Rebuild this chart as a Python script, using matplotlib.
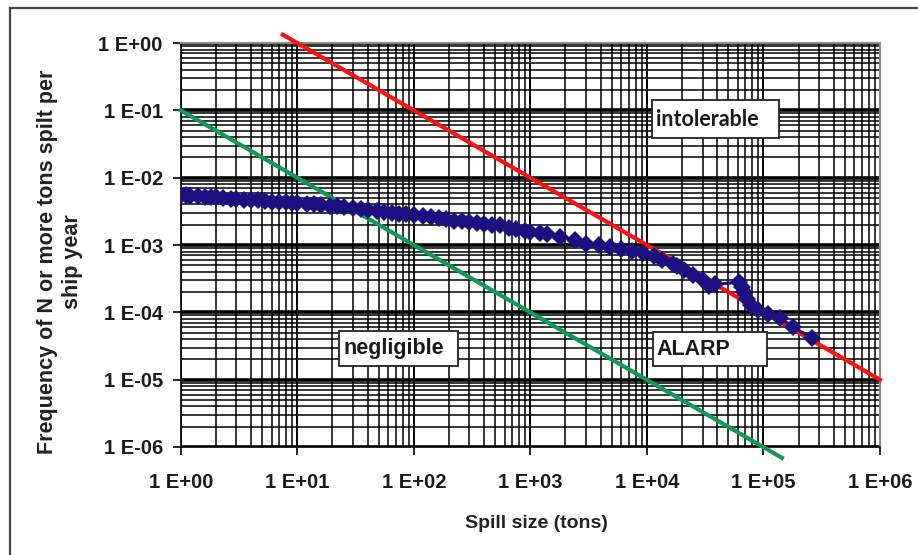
import matplotlib
matplotlib.use("Agg")
import matplotlib.pyplot as plt
from matplotlib.patches import Rectangle
from matplotlib.ticker import FixedLocator, LogLocator, NullFormatter
import numpy as np

# spill size (tons) vs frequency of N or more tons spilt per ship year
spill_tons = [1.0, 1.1, 1.2, 1.4, 1.6, 1.8, 2.0, 2.3, 2.7, 3.0, 3.5, 4.0, 4.6,
              5.3, 6.0, 7.0, 8.0, 9.0, 10, 12, 14, 16, 19, 22, 25, 30, 35, 40,
              48, 55, 65, 75, 85, 100, 120, 140, 165, 190, 220, 260, 300, 350,
              400, 470, 550, 650, 750, 900, 1000, 1200, 1400, 1800, 2400, 3000,
              3900, 4800, 6000, 7500, 9200, 11500, 13500, 16600, 18000, 21000,
              25000, 30000, 34000, 38000, 62000, 65000, 68000, 72000, 78000,
              90000, 110000, 140000, 180000, 260000]
frequency = [5.6e-3, 5.5e-3, 5.4e-3, 5.3e-3, 5.2e-3, 5.2e-3, 5.1e-3, 5.0e-3,
             4.9e-3, 4.8e-3, 4.7e-3, 4.7e-3, 4.6e-3, 4.5e-3, 4.4e-3, 4.3e-3,
             4.3e-3, 4.2e-3, 4.2e-3, 4.1e-3, 4.0e-3, 3.9e-3, 3.85e-3, 3.8e-3,
             3.65e-3, 3.5e-3, 3.4e-3, 3.3e-3, 3.2e-3, 3.1e-3, 3.0e-3, 2.9e-3,
             2.9e-3, 2.8e-3, 2.7e-3, 2.6e-3, 2.5e-3, 2.4e-3, 2.3e-3, 2.25e-3,
             2.2e-3, 2.1e-3, 2.05e-3, 2.0e-3, 2.0e-3, 1.8e-3, 1.7e-3, 1.6e-3,
             1.55e-3, 1.5e-3, 1.45e-3, 1.3e-3, 1.2e-3, 1.05e-3, 1.0e-3, 9.3e-4,
             8.8e-4, 8.2e-4, 7.6e-4, 6.8e-4, 6.0e-4, 5.3e-4, 4.8e-4, 4.2e-4,
             3.6e-4, 3.0e-4, 2.5e-4, 2.6e-4, 2.8e-4, 2.4e-4, 2.0e-4, 1.6e-4,
             1.3e-4, 1.1e-4, 9.5e-5, 8.3e-5, 6.0e-5, 4.2e-5]

# criterion lines (end points)
intolerable_x = [7.5, 1e6]
intolerable_y = [1.33, 1e-5]
negligible_x = [1.0, 1.44e5]
negligible_y = [1e-1, 6.9e-7]

xticks = [1e0, 1e1, 1e2, 1e3, 1e4, 1e5, 1e6]
xlabels = ["1 E+00", "1 E+01", "1 E+02", "1 E+03", "1 E+04", "1 E+05", "1 E+06"]
yticks = [1e-6, 1e-5, 1e-4, 1e-3, 1e-2, 1e-1, 1e0]
ylabels = ["1 E-06", "1 E-05", "1 E-04", "1 E-03", "1 E-02", "1 E-01", "1 E+00"]

plt.rcParams["font.family"] = ["Liberation Sans", "DejaVu Sans"]

fig = plt.figure(figsize=(9.18, 5.55), dpi=100)
ax = fig.add_axes([0.197, 0.1946, 0.7616, 0.7279])
ax.set_xscale("log")
ax.set_yscale("log")
ax.set_xlim(1, 1e6)
ax.set_ylim(1e-6, 1)

ax.xaxis.set_major_locator(FixedLocator(xticks))
ax.yaxis.set_major_locator(FixedLocator(yticks))
ax.xaxis.set_minor_locator(LogLocator(base=10, subs=np.arange(2, 10)))
ax.yaxis.set_minor_locator(LogLocator(base=10, subs=np.arange(2, 10)))
ax.xaxis.set_minor_formatter(NullFormatter())
ax.yaxis.set_minor_formatter(NullFormatter())
ax.set_xticklabels(xlabels, fontsize=14.5, fontweight="bold", color="#1a1a1a")
ax.set_yticklabels(ylabels, fontsize=14.5, fontweight="bold", color="#1a1a1a")

ax.grid(which="minor", color="black", lw=1.1)
ax.grid(which="major", axis="y", color="black", lw=2.6)
ax.grid(which="major", axis="x", color="black", lw=1.4)
ax.set_axisbelow(True)
ax.tick_params(which="minor", length=0)
ax.tick_params(which="major", direction="out", length=6, width=1.2, color="black")
ax.tick_params(axis="x", which="major", pad=13)
ax.tick_params(axis="y", which="major", pad=7)
ax.tick_params(top=False, right=False)

for side in ["top", "right"]:
    ax.spines[side].set_color("#8a8a8a")
    ax.spines[side].set_linewidth(1.5)
for side in ["left", "bottom"]:
    ax.spines[side].set_color("black")
    ax.spines[side].set_linewidth(1.2)

ax.plot(intolerable_x, intolerable_y, color="#ff1010", lw=3.0, clip_on=False, zorder=3)
ax.plot(negligible_x, negligible_y, color="#119a55", lw=3.0, clip_on=False, zorder=3)
ax.plot(spill_tons, frequency, color="#1c0f80", lw=2.2, marker="D",
        markersize=9.5, markeredgewidth=0, zorder=4)

# region labels
boxes = [
    ("intolerable", 0.674, 0.764, 0.181, 0.094, "Lato", "bold"),
    ("negligible", 0.226, 0.200, 0.170, 0.087, "Liberation Sans", "bold"),
    ("ALARP", 0.675, 0.200, 0.163, 0.084, "Liberation Sans", "bold"),
]
for txt, x0, y0, w, h, fam, wt in boxes:
    ax.add_patch(Rectangle((x0, y0), w, h, transform=ax.transAxes,
                           facecolor="white", edgecolor="#222222", lw=1.3, zorder=5))
    ax.text(x0 + 0.006, y0 + h / 2, txt, transform=ax.transAxes, ha="left",
            va="center", fontsize=15.5, fontweight=wt, family=fam,
            color="#1a1a1a", zorder=6)

fig.text(536 / 918, 1 - 523 / 555, "Spill size (tons)", ha="center", va="center",
         fontsize=14, fontweight="bold", color="#222222")
fig.text(60 / 918, 1 - 262 / 555, "Frequency of N or more tons spilt per\nship year",
         ha="center", va="center", rotation=90, fontsize=15.5, fontweight="bold",
         linespacing=1.2, multialignment="center", color="#222222")

# outer frame
fig.add_artist(plt.Line2D([10 / 918, 1.0], [1 - 8 / 555, 1 - 8 / 555],
                          transform=fig.transFigure, color="#444444", lw=1.6))
fig.add_artist(plt.Line2D([10 / 918, 10 / 918], [0.0, 1 - 8 / 555],
                          transform=fig.transFigure, color="#444444", lw=1.6))

fig.savefig("out.png", dpi=100)
